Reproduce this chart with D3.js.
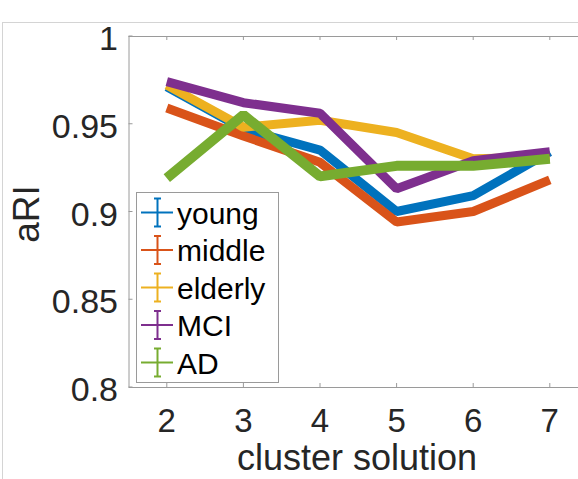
<!DOCTYPE html>
<html>
<head>
<meta charset="utf-8">
<script src="https://cdn.jsdelivr.net/npm/d3@7"></script>
<style>
  html, body { margin: 0; padding: 0; background: #fff; overflow: hidden; }
  svg { display: block; font-family: "Liberation Sans", Arial, sans-serif; }
</style>
</head>
<body>
<div id="chart"></div>
<script>
// cluster solutions on the x axis
const clusters = [2, 3, 4, 5, 6, 7];
const yTicks = [0.8, 0.85, 0.9, 0.95, 1];
const yTickLabels = ["0.8", "0.85", "0.9", "0.95", "1"];

// aRI per group
const groups = ["young", "middle", "elderly", "MCI", "AD"];
const young   = [0.971, 0.947, 0.935, 0.900, 0.909, 0.934];
const middle  = [0.959, 0.943, 0.928, 0.894, 0.900, 0.918];
const elderly = [0.972, 0.948, 0.952, 0.945, 0.930, 0.931];
const mci     = [0.974, 0.962, 0.956, 0.913, 0.929, 0.934];
const ad      = [0.919, 0.955, 0.920, 0.926, 0.926, 0.930];
const colors  = ["#0072BD", "#D95319", "#EDB120", "#7E2F8E", "#77AC30"];

const series = [young, middle, elderly, mci, ad];

const width = 578, height = 479;
const margin = { left: 128.5, top: 36, bottom: 387 };

const svg = d3.select("#chart").append("svg")
    .attr("width", width)
    .attr("height", height);

// outer figure frame (partly cropped)
svg.append("rect")
    .attr("x", 2.5).attr("y", 22.5)
    .attr("width", 700).attr("height", 600)
    .attr("fill", "none")
    .attr("stroke", "#d4d4d4");

// x runs 1.5 .. 7.5, right part is cut off by the image
const x = d3.scaleLinear().domain([1.5, 7.5]).range([margin.left, margin.left + 6 * 76.6]);
const y = d3.scaleLinear().domain([0.8, 1]).range([margin.bottom, margin.top]);

// axes box lines
const axisColor = "#9a9a9a";
svg.append("line")
    .attr("x1", x(1.5)).attr("x2", width + 10)
    .attr("y1", y(0.8) + 0.5).attr("y2", y(0.8) + 0.5)
    .attr("stroke", axisColor);
svg.append("line")
    .attr("x1", x(1.5)).attr("x2", width + 10)
    .attr("y1", y(1) + 0.5).attr("y2", y(1) + 0.5)
    .attr("stroke", axisColor);
svg.append("line")
    .attr("x1", x(1.5) + 0.5).attr("x2", x(1.5) + 0.5)
    .attr("y1", y(1)).attr("y2", y(0.8))
    .attr("stroke", axisColor);

// inward tick marks
clusters.forEach(c => {
    svg.append("line").attr("x1", x(c)).attr("x2", x(c))
        .attr("y1", y(0.8)).attr("y2", y(0.8) - 4).attr("stroke", axisColor);
    svg.append("line").attr("x1", x(c)).attr("x2", x(c))
        .attr("y1", y(1)).attr("y2", y(1) + 4).attr("stroke", axisColor);
});
yTicks.forEach(t => {
    svg.append("line").attr("x1", x(1.5)).attr("x2", x(1.5) + 4)
        .attr("y1", y(t)).attr("y2", y(t)).attr("stroke", axisColor);
});

// tick labels
svg.append("g").selectAll("text")
    .data(clusters)
    .enter().append("text")
    .attr("x", d => x(d))
    .attr("y", 432)
    .attr("text-anchor", "middle")
    .attr("font-size", 33)
    .attr("fill", "#262626")
    .text(d => d);

svg.append("g").selectAll("text")
    .data(yTicks)
    .enter().append("text")
    .attr("x", 118)
    .attr("y", d => y(d) + 14)
    .attr("text-anchor", "end")
    .attr("font-size", 34)
    .attr("fill", "#262626")
    .text((d, i) => yTickLabels[i]);

// axis titles
svg.append("text")
    .attr("x", 357)
    .attr("y", 470)
    .attr("text-anchor", "middle")
    .attr("font-size", 36)
    .attr("fill", "#262626")
    .text("cluster solution");

svg.append("text")
    .attr("transform", "translate(39,214) rotate(-90)")
    .attr("text-anchor", "middle")
    .attr("font-size", 37)
    .attr("fill", "#262626")
    .text("aRI");

// data lines
const line = d3.line()
    .x((d, i) => x(clusters[i]))
    .y(d => y(d));

svg.append("g").selectAll("path")
    .data(series)
    .enter().append("path")
    .attr("d", d => line(d))
    .attr("fill", "none")
    .attr("stroke", (d, i) => colors[i])
    .attr("stroke-width", (d, i) => i === 4 ? 10 : 9)
    .attr("stroke-linejoin", "bevel");

// legend
const legend = svg.append("g");
legend.append("rect")
    .attr("x", 136.5).attr("y", 192.5)
    .attr("width", 142).attr("height", 190)
    .attr("fill", "#fff")
    .attr("stroke", "#9a9a9a");

const rowY = d => 212.5 + d * 37.5;
const item = legend.selectAll("g.item")
    .data(groups)
    .enter().append("g")
    .attr("class", "item")
    .attr("transform", (d, i) => `translate(0,${rowY(i)})`);

item.append("line")
    .attr("x1", 141).attr("x2", 173)
    .attr("y1", 0).attr("y2", 0)
    .attr("stroke", (d, i) => colors[i])
    .attr("stroke-width", 2);
item.append("line")
    .attr("x1", 157.5).attr("x2", 157.5)
    .attr("y1", -14).attr("y2", 14)
    .attr("stroke", (d, i) => colors[i])
    .attr("stroke-width", 2);
item.append("line")
    .attr("x1", 154).attr("x2", 161)
    .attr("y1", -14).attr("y2", -14)
    .attr("stroke", (d, i) => colors[i])
    .attr("stroke-width", 2);
item.append("line")
    .attr("x1", 154).attr("x2", 161)
    .attr("y1", 14).attr("y2", 14)
    .attr("stroke", (d, i) => colors[i])
    .attr("stroke-width", 2);
item.append("text")
    .attr("x", 177)
    .attr("y", 11)
    .attr("font-size", 30)
    .attr("fill", "#000")
    .text(d => d);
</script>
</body>
</html>
